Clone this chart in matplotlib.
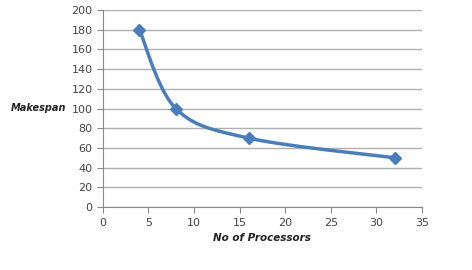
import numpy as np
import matplotlib.pyplot as plt

processors = [4, 8, 16, 32]
makespan = [180, 100, 70, 50]
x_ticks = [0, 5, 10, 15, 20, 25, 30, 35]
y_ticks = [0, 20, 40, 60, 80, 100, 120, 140, 160, 180, 200]

color = '#4A7EBB'


def smooth(xs, ys, n=40):
    # Excel-like smoothed line (Catmull-Rom style bezier)
    xs = np.asarray(xs, float)
    ys = np.asarray(ys, float)
    px = np.concatenate([[xs[0]], xs, [xs[-1]]])
    py = np.concatenate([[ys[0]], ys, [ys[-1]]])
    ox, oy = [], []
    for i in range(1, len(px) - 2):
        p0 = np.array([px[i - 1], py[i - 1]])
        p1 = np.array([px[i], py[i]])
        p2 = np.array([px[i + 1], py[i + 1]])
        p3 = np.array([px[i + 2], py[i + 2]])
        c1 = p1 + (p2 - p0) / 6
        c2 = p2 - (p3 - p1) / 6
        t = np.linspace(0, 1, n)[:, None]
        b = ((1 - t) ** 3) * p1 + 3 * ((1 - t) ** 2) * t * c1 + 3 * (1 - t) * t ** 2 * c2 + t ** 3 * p2
        ox.extend(b[:, 0])
        oy.extend(b[:, 1])
    return ox, oy


fig = plt.figure(figsize=(4.72, 2.70), dpi=100)
ax = fig.add_axes([0.218, 0.233, 0.676, 0.730])

sx, sy = smooth(processors, makespan)
ax.plot(sx, sy, color=color, lw=2.5, zorder=3)
ax.plot(processors, makespan, linestyle='none', marker='D', ms=6,
        color=color, zorder=4)

ax.set_xlim(0, 35)
ax.set_ylim(0, 200)
ax.set_xticks(x_ticks)
ax.set_yticks(y_ticks)
ax.yaxis.grid(True, color='#b0b0b0', lw=1)
ax.set_axisbelow(True)

for s in ['top', 'right']:
    ax.spines[s].set_visible(False)
for s in ['left', 'bottom']:
    ax.spines[s].set_color('#888888')
ax.tick_params(colors='#888888', labelcolor='#444444', labelsize=8, length=4)

ax.set_xlabel('No of Processors', fontsize=7.5, fontweight='bold',
              fontstyle='italic', color='#222222')
fig.text(66 / 472, 1 - 108 / 270, 'Makespan', fontsize=7, fontweight='bold',
         fontstyle='italic', color='#222222', ha='right', va='center')

fig.savefig('out.png', dpi=100)
